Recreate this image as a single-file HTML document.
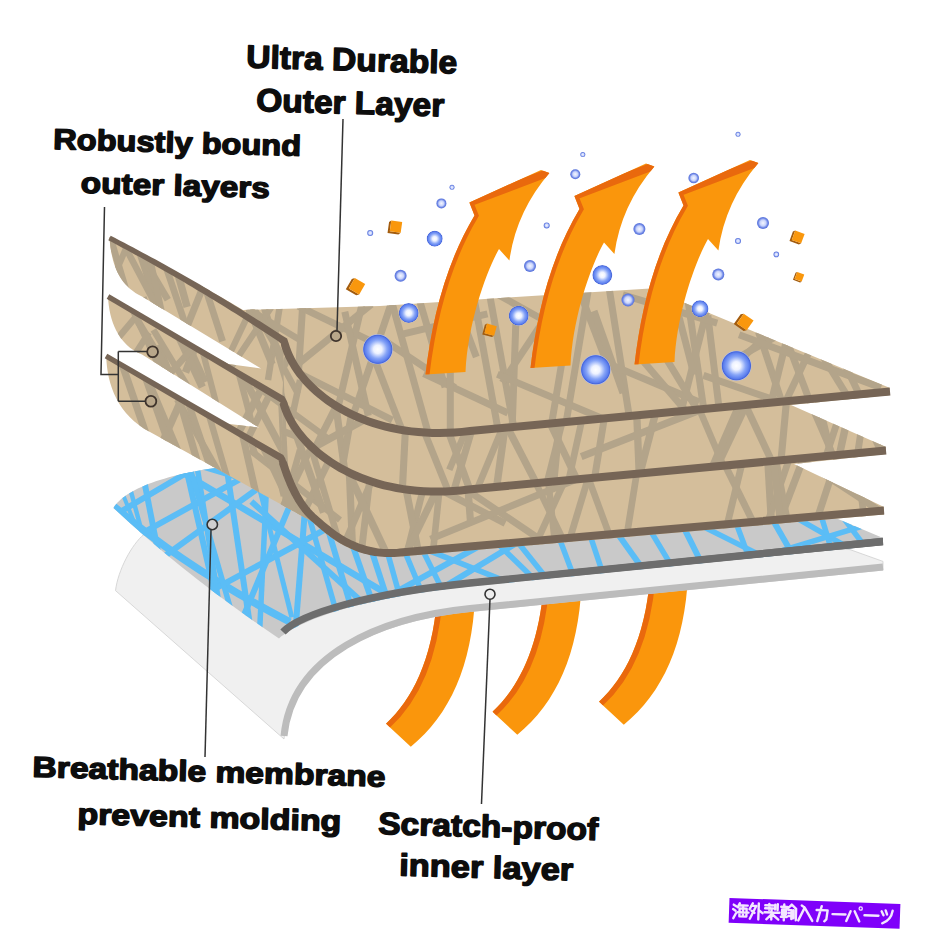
<!DOCTYPE html>
<html><head><meta charset="utf-8">
<style>
html,body{margin:0;padding:0;background:#fff;width:930px;height:930px;overflow:hidden}
svg{display:block}
.lbl{font-family:"Liberation Sans",sans-serif;font-weight:bold;fill:#0d0d0d;stroke:#0d0d0d;stroke-width:1.4px;stroke-linejoin:round}
</style></head>
<body>
<svg width="930" height="930" viewBox="0 0 930 930">
<defs>
  <radialGradient id="bub" cx="50%" cy="50%" r="50%">
    <stop offset="0" stop-color="#ffffff"/>
    <stop offset="0.28" stop-color="#eef2ff"/>
    <stop offset="0.62" stop-color="#86a4f7"/>
    <stop offset="0.86" stop-color="#5b7eee"/>
    <stop offset="0.94" stop-color="#4766d8"/>
    <stop offset="1" stop-color="#aebcf0"/>
  </radialGradient>
  <radialGradient id="bubs" cx="50%" cy="50%" r="50%">
    <stop offset="0" stop-color="#f4f6ff"/>
    <stop offset="0.5" stop-color="#c9d4fb"/>
    <stop offset="0.8" stop-color="#6d86e6"/>
    <stop offset="1" stop-color="#5570d8"/>
  </radialGradient>
  <clipPath id="tanclip"><path id="tanpath" d="M109.5,237 Q200,284 243,310 L380,306 L500,298 L650,288.5 L890,388 L890,395 L791,405 L886,447 L886,454 L794,464 L884,507 L884,514.5 L400,556.5 C360,560 330,540 314.8,523 L150,432 C118,415 107,385 106.2,355.7 L226,423.5 L259,427.5 L142,354.5 C118,345 109,320 108,296.5 L228,364 L261,368.5 L142,296.5 C118,285 111,262 109.5,237 Z"/></clipPath>
  <clipPath id="memclip"><path id="mempath" d="M113.5,508 C122,494 150,476 229,466 L320,470 L500,500 L838,519 L883,538 L883,545 L470,586.5 C370,596.5 302,618 279,638.5 Q185,575 113.5,508 Z"/></clipPath>
  <clipPath id="arrclip"><path id="arrpath" d="M425.5,374.5 C432,320 445,265 474.5,215.5 L469.4,202.6 L541,170 L549.4,173 Q516,212 509.4,260.6 L499,249 C488,268 468,320 465.5,372 Z"/></clipPath>
  <clipPath id="arcclip"><path id="arcpath" d="M437,600 L475,597 C472,665 450,715 410.8,746.8 L386,723.7 C412,700 432,660 437,600 Z"/></clipPath>
<clipPath id="r1"><path d="M100,200 L900,200 L900,391 L470,431 C365,444 295,390 284,341 L282.5,399.5 L100,295 Z"/></clipPath>
  <clipPath id="r2"><path d="M100,295 L282.5,399.5 L284,341 C295,390 365,444 470,431 L900,391 L900,450 L468.5,489.5 C363.5,503 293.5,448.5 282.5,399.5 L281.5,458 L100,352 Z"/></clipPath>
  <clipPath id="r3"><path d="M100,352 L281.5,458 L282.5,399.5 C293.5,448.5 363.5,503 468.5,489.5 L900,450 L900,600 L100,600 Z"/></clipPath>
</defs>

<!-- bottom arcs -->
<g id="arc1">
  <use href="#arcpath" fill="#fa960c"/>
  <path d="M386,723.7 C412,700 432,660 437,600" stroke="#e9690d" stroke-width="11" fill="none" clip-path="url(#arcclip)"/>
</g>
<use href="#arc1" transform="translate(106.5,-12)"/>
<use href="#arc1" transform="translate(213,-22)"/>

<!-- inner white layer -->
<path d="M143.9,534.5 C132,544 118,570 115.5,590.6 L284,739 C292,658 380,620.5 470,611.5 L883,570 L883,561.4 L850,549.6 L700,540 L300,540 Z" fill="#f0f0f0" stroke="#cfcfcf" stroke-width="0.8"/>
<path d="M284,736 C292,655 380,617.5 470,608.5 L883,567" fill="none" stroke="#bcbcbc" stroke-width="7"/>

<!-- membrane -->
<use href="#mempath" fill="#c9c9c9"/>
<g clip-path="url(#memclip)" stroke="#5bbdf6" stroke-width="6" fill="none" id="blueTex">
<path d="M110,503 Q185,568 290,622" stroke-width="7.5"/>
<path d="M107.6,428.1 L412.4,608.9" stroke-width="6.5"/>
<path d="M127.6,395.7 L170.2,614.3" stroke-width="6.0"/>
<path d="M120,512 L200,465" stroke-width="6.0"/>
<path d="M80.2,567.5 L313.8,438.5" stroke-width="6.0"/>
<path d="M167.0,384.3 L228.0,651.7" stroke-width="6.0"/>
<path d="M185.8,396.1 L226.2,648.9" stroke-width="5.5"/>
<path d="M130,488 L140,525" stroke-width="4.5"/>
<path d="M122,492 L134,522" stroke-width="4.0"/>
<path d="M213.8,381.0 L261.2,701.0" stroke-width="6.0"/>
<path d="M324.7,422.0 L214.3,686.0" stroke-width="6.0"/>
<path d="M144.5,626.6 L379.3,500.4" stroke-width="6.0"/>
<path d="M270.3,408.1 L255.7,713.9" stroke-width="5.5"/>
<path d="M311.1,432.3 L287.9,725.7" stroke-width="6.0"/>
<path d="M285.3,433.5 L354.7,676.5" stroke-width="5.5"/>
<path d="M107.2,597.9 L307.8,452.1" stroke-width="6.0"/>
<path d="M180.1,433.5 L252.9,686.5" stroke-width="5.5"/>
<path d="M153.8,452.1 L416.2,530.9" stroke-width="5.5"/>
<path d="M233.2,382.7 L291.8,617.3" stroke-width="5.0"/>
<path d="M304.1,448.7 L374.6,686.3" stroke-width="6.0"/>
<path d="M319.4,450.0 L401.2,685.0" stroke-width="6.0"/>
<path d="M340.5,455.4 L413.9,680.6" stroke-width="6.0"/>
<path d="M251.4,501.5 L428.6,662.5" stroke-width="6.0"/>
<path d="M359.7,453.3 L422.3,676.7" stroke-width="5.5"/>
<path d="M365.4,456.9 L454.6,671.1" stroke-width="5.5"/>
<path d="M379.8,464.5 L480.2,665.5" stroke-width="5.5"/>
<path d="M357.1,613.4 L554.9,504.6" stroke-width="6.0"/>
<path d="M356.4,521.6 L573.6,608.4" stroke-width="5.5"/>
<path d="M378.5,626.6 L582.0,503.4" stroke-width="6.0"/>
<path d="M429.5,477.3 L594.5,637.7" stroke-width="5.5"/>
<path d="M463.8,474.7 L596.2,640.3" stroke-width="5.5"/>
<path d="M528.4,455.7 L603.6,656.3" stroke-width="5.5"/>
<path d="M561.5,449.6 L628.5,650.4" stroke-width="5.5"/>
<path d="M562.7,456.8 L692.3,638.2" stroke-width="6.0"/>
<path d="M603.7,452.8 L714.3,637.2" stroke-width="5.5"/>
<path d="M639.8,439.5 L740.2,640.5" stroke-width="6.0"/>
<path d="M619.5,484.8 L820.5,585.2" stroke-width="5.5"/>
<path d="M703.7,435.6 L779.3,639.4" stroke-width="5.5"/>
<path d="M725.3,436.9 L834.7,628.1" stroke-width="6.0"/>
<path d="M721.9,475.3 L913.1,584.7" stroke-width="5.5"/>
<path d="M793.9,425.9 L856.1,631.1" stroke-width="5.5"/>
<path d="M791.0,448.0 L914.0,612.0" stroke-width="5.5"/>
<path d="M763.9,556.1 L969.1,493.9" stroke-width="5.5"/>
</g>
<path d="M283,632 C300,614 370,593 470,583 L883,541.5" fill="none" stroke="#6d6d6d" stroke-width="7.3"/>
<path fill="#6d6d6d" d="M469.0,580.00 L883.0,537.75 L883.0,545.25 L469.0,586.00 Z"/>

<!-- tan layers -->
<use href="#tanpath" fill="#d4be9b"/>
<g clip-path="url(#tanclip)" stroke="#b3a48a" fill="none" id="tanTex">
<g clip-path="url(#r1)"><path d="M262,300 L292,400" stroke-width="7"/>
<path d="M280,305 L268,380" stroke-width="6.5"/>
<path d="M250,310 L300,340" stroke-width="6.5"/>
<path d="M303.5,292.5 L297.9,381.8" stroke-width="7"/>
<path d="M288.4,371.8 L371.4,304.2" stroke-width="7"/>
<path d="M298.2,306.2 L377.1,344.1" stroke-width="7"/>
<path d="M365.0,291.3 L336.1,415.7" stroke-width="7"/>
<path d="M344.8,311.8 L368.3,415.8" stroke-width="7"/>
<path d="M395.8,290.0 L353.2,415.0" stroke-width="7"/>
<path d="M369.8,347.0 L406.9,442.6" stroke-width="7"/>
<path d="M378.5,336.6 L455.0,387.6" stroke-width="7"/>
<path d="M392.2,303.5 L431.0,443.1" stroke-width="7"/>
<path d="M417.9,294.7 L445.1,387.3" stroke-width="7"/>
<path d="M298.3,372.9 L392.4,420.1" stroke-width="7"/>
<path d="M471.2,282.8 L500.0,440.3" stroke-width="7"/>
<path d="M488.4,287.9 L515.5,436.9" stroke-width="7"/>
<path d="M516.3,310.0 L511.7,440.6" stroke-width="7"/>
<path d="M489.7,290.0 L552.0,324.8" stroke-width="7"/>
<path d="M542.9,321.6 L502.3,382.6" stroke-width="7"/>
<path d="M497.4,374.3 L616.6,424.5" stroke-width="7"/>
<path d="M423.7,373.7 L507.9,413.0" stroke-width="7"/>
<path d="M450.3,370.0 L450.3,446.0" stroke-width="7"/>
<path d="M589.2,284.4 L566.0,423.2" stroke-width="7"/>
<path d="M563.4,353.2 L548.8,440.4" stroke-width="7"/>
<path d="M574.6,278.5 L606.4,361.8" stroke-width="7"/>
<path d="M607.5,277.5 L630.3,423.2" stroke-width="7"/>
<path d="M594.0,311.0 L623.0,393.0" stroke-width="7"/>
<path d="M600.6,360.6 L699.2,402.0" stroke-width="7"/>
<path d="M639.9,357.3 L692.6,419.1" stroke-width="7"/>
<path d="M686.9,293.0 L705.8,423.2" stroke-width="7"/>
<path d="M711.1,293.4 L678.2,422.8" stroke-width="7"/>
<path d="M707.8,315.3 L720.9,423.3" stroke-width="7"/>
<path d="M773.4,329.8 L729.4,369.3" stroke-width="7"/>
<path d="M656.1,341.9 L703.9,420.8" stroke-width="7"/>
<path d="M703.4,375.4 L777.0,400.9" stroke-width="7"/>
<path d="M672.9,293.4 L694.0,374.7" stroke-width="7"/>
<path d="M732.2,360.7 L792.8,327.3" stroke-width="7"/>
<path d="M758.5,331.9 L786.0,414.5" stroke-width="7"/>
<path d="M787.8,334.8 L768.0,414.9" stroke-width="7"/>
<path d="M786.6,340.2 L814.1,412.6" stroke-width="7"/>
<path d="M809.0,352.1 L780.7,412.1" stroke-width="7"/>
<path d="M739.1,334.7 L880.9,387.6" stroke-width="7"/>
<path d="M820.9,353.1 L852.6,404.7" stroke-width="7"/>
<path d="M842.3,358.7 L865.7,408.3" stroke-width="7"/>
<path d="M622.8,294.8 L717.2,323.2" stroke-width="7"/>
<path d="M448.7,283.1 L476.3,356.9" stroke-width="7"/>
<path d="M402.5,334.2 L487.5,313.8" stroke-width="7"/>
<path d="M243.6,186.0 L181.4,340.6" stroke-width="7.0"/>
<path d="M122.7,199.8 L166.7,334.0" stroke-width="7.5"/>
<path d="M95.6,188.0 L140.4,338.2" stroke-width="6.7"/>
<path d="M127.3,251.0 L203.4,395.1" stroke-width="6.5"/>
<path d="M92.1,249.5 L158.9,446.8" stroke-width="6.6"/>
<path d="M155.9,236.9 L194.4,351.3" stroke-width="6.7"/>
<path d="M185.4,226.1 L222.6,341.2" stroke-width="6.8"/>
<path d="M98.9,183.6 L167.8,299.8" stroke-width="7.0"/>
<path d="M207.2,207.5 L272.2,364.4" stroke-width="7.3"/>
<path d="M143.6,297.2 L181.6,411.7" stroke-width="6.1"/>
<path d="M150.9,189.9 L70.9,377.4" stroke-width="6.2"/>
<path d="M264.1,280.9 L207.0,402.2" stroke-width="6.3"/>
<path d="M309.8,249.9 L193.4,423.4" stroke-width="6.2"/>
<path d="M237.5,281.2 L326.6,431.6" stroke-width="7.0"/>
<path d="M152.6,182.6 L187.1,306.9" stroke-width="7.4"/>
<path d="M128.7,162.0 L173.8,367.2" stroke-width="6.5"/></g>
<g clip-path="url(#r2)"><path d="M270,360 L305,470" stroke-width="7"/>
<path d="M300,380 L285,450" stroke-width="6.5"/>
<path d="M255,385 L330,440" stroke-width="6.5"/>
<path d="M202.2,299.6 L290.4,465.2" stroke-width="7.5"/>
<path d="M158.5,344.8 L209.8,475.2" stroke-width="6.7"/>
<path d="M198.8,336.8 L237.4,484.6" stroke-width="6.2"/>
<path d="M153.4,329.9 L228.6,453.8" stroke-width="6.4"/>
<path d="M138.1,321.6 L246.4,501.3" stroke-width="7.3"/>
<path d="M197.2,208.2 L298.0,394.1" stroke-width="6.2"/>
<path d="M198.8,242.0 L58.3,409.1" stroke-width="6.5"/>
<path d="M197.4,215.4 L253.1,428.0" stroke-width="6.4"/>
<path d="M134.2,225.3 L205.1,382.1" stroke-width="6.9"/>
<path d="M137.0,247.2 L202.3,387.2" stroke-width="7.5"/>
<path d="M241.8,223.7 L185.5,372.4" stroke-width="7.5"/>
<path d="M100.6,328.3 L148.3,509.9" stroke-width="7.4"/>
<path d="M207.1,332.0 L114.8,435.3" stroke-width="6.8"/>
<path d="M90.6,219.5 L168.9,387.1" stroke-width="6.7"/>
<path d="M192.8,236.1 L240.7,363.0" stroke-width="6.0"/>
<path d="M148.9,332.5 L83.9,434.2" stroke-width="6.3"/>
<path d="M576.8,240.9 L548.1,540.1" stroke-width="7.4"/>
<path d="M406.5,267.9 L252.1,571.7" stroke-width="7.0"/>
<path d="M640.6,181.3 L803.9,529.7" stroke-width="7.1"/>
<path d="M824.0,240.9 L680.6,543.4" stroke-width="7.2"/>
<path d="M606.6,177.1 L467.9,511.3" stroke-width="6.7"/>
<path d="M852.6,375.2 L788.8,569.7" stroke-width="6.9"/>
<path d="M753.3,176.2 L912.6,520.1" stroke-width="6.7"/>
<path d="M354.3,210.8 L215.8,476.2" stroke-width="7.4"/>
<path d="M485.7,288.7 L586.9,500.3" stroke-width="7.1"/>
<path d="M891.5,214.8 L837.7,462.7" stroke-width="7.5"/>
<path d="M898.0,188.8 L879.6,510.5" stroke-width="6.5"/>
<path d="M521.7,305.8 L484.8,572.7" stroke-width="7.4"/>
<path d="M632.1,301.4 L640.5,504.9" stroke-width="7.3"/>
<path d="M511.4,295.8 L449.7,504.7" stroke-width="7.1"/>
<path d="M322.8,308.6 L362.9,605.4" stroke-width="7.2"/>
<path d="M379.0,319.6 L483.9,579.4" stroke-width="6.9"/>
<path d="M754.2,274.4 L854.8,505.2" stroke-width="6.6"/>
<path d="M794.9,296.1 L954.9,419.9" stroke-width="6.6"/>
<path d="M413.0,279.1 L401.5,506.9" stroke-width="7.1"/>
<path d="M388.7,201.1 L338.8,487.0" stroke-width="7.2"/>
<path d="M911.1,327.5 L581.2,456.6" stroke-width="7.4"/>
<path d="M621.7,188.1 L541.5,504.0" stroke-width="6.6"/>
<path d="M817.9,223.0 L693.9,509.1" stroke-width="6.9"/>
<path d="M475.8,358.7 L295.3,457.5" stroke-width="7.5"/>
<path d="M796.4,314.8 L848.1,521.6" stroke-width="7.1"/>
<path d="M638.1,210.9 L583.4,546.4" stroke-width="7.0"/>
<path d="M619.1,249.6 L538.9,616.7" stroke-width="6.7"/>
<path d="M796.7,289.2 L767.6,607.2" stroke-width="7.1"/>
<path d="M647.3,287.2 L739.9,504.6" stroke-width="6.6"/>
<path d="M435.2,287.7 L557.7,524.7" stroke-width="7.3"/>
<path d="M276.9,301.5 L293.6,667.6" stroke-width="6.6"/>
<path d="M536.1,265.2 L449.3,469.7" stroke-width="6.6"/>
<path d="M875.4,337.7 L829.2,638.6" stroke-width="6.9"/>
<path d="M703.3,228.9 L631.1,507.6" stroke-width="7.4"/>
<path d="M376.2,181.0 L211.0,512.4" stroke-width="7.1"/>
<path d="M346.4,154.1 L482.8,524.9" stroke-width="7.3"/></g>
<g clip-path="url(#r3)"><path d="M265,420 L310,540" stroke-width="7"/>
<path d="M300,450 L280,520" stroke-width="6.5"/>
<path d="M250,450 L340,520" stroke-width="6.5"/>
<path d="M89.0,409.9 L134.0,619.8" stroke-width="6.4"/>
<path d="M182.5,324.0 L239.1,518.7" stroke-width="6.4"/>
<path d="M177.2,399.3 L255.8,537.7" stroke-width="6.7"/>
<path d="M246.9,395.1 L342.0,586.7" stroke-width="6.3"/>
<path d="M147.9,290.4 L200.6,473.1" stroke-width="7.2"/>
<path d="M224.7,356.3 L273.3,569.9" stroke-width="7.1"/>
<path d="M353.6,410.6 L265.2,591.3" stroke-width="7.0"/>
<path d="M96.8,394.1 L165.6,592.5" stroke-width="6.7"/>
<path d="M205.0,346.5 L115.9,547.0" stroke-width="7.4"/>
<path d="M255.7,375.3 L284.3,495.8" stroke-width="7.4"/>
<path d="M216.7,334.1 L255.3,455.3" stroke-width="6.6"/>
<path d="M107.0,320.1 L146.8,436.1" stroke-width="7.3"/>
<path d="M197.1,335.9 L271.3,460.8" stroke-width="6.8"/>
<path d="M265.1,400.7 L295.1,532.7" stroke-width="6.3"/>
<path d="M185.0,294.5 L261.9,440.6" stroke-width="6.5"/>
<path d="M165.1,335.1 L217.5,488.4" stroke-width="6.8"/>
<path d="M132.7,342.6 L198.9,499.7" stroke-width="6.2"/>
<path d="M145.9,378.6 L194.2,515.9" stroke-width="7.2"/>
<path d="M450.7,381.4 L425.3,626.2" stroke-width="6.6"/>
<path d="M449.1,386.3 L385.6,637.4" stroke-width="6.9"/>
<path d="M857.5,316.1 L724.4,665.9" stroke-width="7.3"/>
<path d="M764.4,401.7 L779.0,652.6" stroke-width="7.3"/>
<path d="M618.3,378.5 L535.5,652.2" stroke-width="6.8"/>
<path d="M345.2,370.8 L358.0,681.4" stroke-width="7.2"/>
<path d="M422.8,362.6 L301.8,642.1" stroke-width="6.8"/>
<path d="M611.7,378.2 L508.8,602.8" stroke-width="6.7"/>
<path d="M371.9,314.4 L425.3,587.2" stroke-width="7.2"/>
<path d="M829.0,234.5 L869.2,559.8" stroke-width="6.7"/>
<path d="M378.7,430.3 L685.8,638.0" stroke-width="6.9"/>
<path d="M821.9,352.0 L612.2,473.5" stroke-width="7.1"/>
<path d="M654.8,360.2 L613.9,616.1" stroke-width="6.7"/>
<path d="M628.5,269.0 L766.0,548.3" stroke-width="7.0"/>
<path d="M390.0,282.8 L217.4,643.2" stroke-width="6.6"/>
<path d="M523.8,311.8 L404.0,557.5" stroke-width="7.3"/>
<path d="M276.3,298.3 L290.7,592.8" stroke-width="7.2"/>
<path d="M451.4,269.8 L470.4,520.7" stroke-width="7.2"/>
<path d="M839.4,311.0 L756.6,554.8" stroke-width="6.7"/>
<path d="M424.5,252.2 L563.5,540.4" stroke-width="6.5"/>
<path d="M782.3,296.3 L721.8,547.0" stroke-width="6.9"/>
<path d="M378.5,403.9 L348.6,662.8" stroke-width="6.9"/>
<path d="M243.8,220.5 L356.9,602.1" stroke-width="6.5"/>
<path d="M747.1,347.5 L465.7,475.4" stroke-width="6.6"/>
<path d="M155.0,382.0 L411.1,480.3" stroke-width="6.8"/>
<path d="M741.0,276.1 L797.2,574.8" stroke-width="7.4"/>
<path d="M536.7,374.3 L560.7,596.1" stroke-width="6.6"/>
<path d="M560.8,403.1 L650.5,646.7" stroke-width="6.6"/>
<path d="M232.3,226.2 L391.3,563.9" stroke-width="7.5"/>
<path d="M759.3,332.2 L787.8,588.7" stroke-width="7.3"/>
<path d="M188.3,359.0 L505.2,523.4" stroke-width="7.0"/>
<path d="M240.9,277.2 L323.6,512.5" stroke-width="7.4"/>
<path d="M695.1,389.9 L906.2,528.2" stroke-width="7.0"/>
<path d="M867.5,366.0 L793.0,592.2" stroke-width="7.1"/>
<path d="M244.9,408.2 L356.8,644.5" stroke-width="7.4"/>
<path d="M735.7,414.0 L430.5,539.1" stroke-width="6.9"/></g>
</g>
<path fill="#766556" d="M108.3,240.2 L112.8,242.6 L117.3,245.0 L121.8,247.4 L126.3,249.8 L130.8,252.2 L135.2,254.7 L139.7,257.1 L144.1,259.5 L148.6,262.0 L153.0,264.5 L157.4,267.0 L161.8,269.5 L166.2,272.0 L170.6,274.5 L175.0,277.0 L179.4,279.6 L183.8,282.1 L188.1,284.7 L192.5,287.3 L196.8,289.9 L201.2,292.4 L205.5,295.1 L209.8,297.7 L214.1,300.3 L218.5,303.0 L222.7,305.6 L227.0,308.3 L231.3,310.9 L235.6,313.6 L239.9,316.3 L244.1,319.0 L248.4,321.8 L252.6,324.5 L256.8,327.2 L261.1,330.0 L265.3,332.7 L269.5,335.5 L273.7,338.3 L277.9,341.1 L280.9,343.5 L281.1,345.8 L282.3,349.7 L283.7,353.6 L285.4,357.4 L287.3,361.3 L289.4,365.1 L291.7,368.9 L294.2,372.7 L296.9,376.4 L299.9,380.1 L303.0,383.7 L306.3,387.3 L309.8,390.8 L313.6,394.2 L317.5,397.5 L321.6,400.8 L325.8,403.9 L330.3,407.0 L335.0,409.9 L339.8,412.7 L344.8,415.4 L350.0,418.0 L355.3,420.5 L360.9,422.8 L366.6,424.9 L372.4,426.9 L378.4,428.8 L384.6,430.4 L391.0,431.9 L397.5,433.2 L404.1,434.4 L410.9,435.3 L417.9,436.0 L425.0,436.6 L432.2,436.9 L439.6,437.0 L447.1,436.8 L454.8,436.4 L462.6,435.8 L470.4,435.0 L680.4,415.2 L890.4,395.5 L889.6,387.5 L679.6,407.3 L469.6,427.0 L461.8,427.9 L454.3,428.5 L446.8,428.8 L439.6,429.0 L432.4,428.9 L425.4,428.6 L418.6,428.1 L411.9,427.4 L405.3,426.5 L398.9,425.4 L392.7,424.1 L386.6,422.7 L380.6,421.1 L374.9,419.3 L369.3,417.4 L363.8,415.3 L358.5,413.1 L353.4,410.8 L348.5,408.3 L343.7,405.8 L339.1,403.1 L334.7,400.3 L330.5,397.4 L326.4,394.4 L322.5,391.3 L318.9,388.2 L315.4,385.0 L312.1,381.7 L308.9,378.4 L306.0,375.0 L303.3,371.6 L300.8,368.1 L298.4,364.6 L296.3,361.1 L294.4,357.6 L292.7,354.1 L291.2,350.6 L289.9,347.1 L288.8,343.6 L287.1,338.5 L281.7,335.3 L277.5,332.5 L273.2,329.8 L269.0,327.0 L264.7,324.3 L260.5,321.6 L256.2,318.9 L251.9,316.2 L247.6,313.5 L243.3,310.8 L239.0,308.1 L234.7,305.5 L230.4,302.8 L226.1,300.2 L221.7,297.6 L217.4,295.0 L213.0,292.4 L208.7,289.8 L204.3,287.2 L199.9,284.6 L195.5,282.1 L191.1,279.6 L186.7,277.0 L182.3,274.5 L177.9,272.0 L173.5,269.5 L169.0,267.0 L164.6,264.5 L160.1,262.1 L155.7,259.6 L151.2,257.2 L146.7,254.8 L142.3,252.4 L137.8,250.0 L133.3,247.6 L128.8,245.2 L124.3,242.8 L119.7,240.4 L115.2,238.1 L110.7,235.8 Z M106.7,298.7 L193.7,350.6 L280.6,402.5 L279.6,404.3 L280.8,408.2 L282.2,412.1 L283.9,416.0 L285.8,419.8 L287.9,423.7 L290.2,427.5 L292.7,431.3 L295.4,435.0 L298.4,438.7 L301.5,442.3 L304.8,445.9 L308.3,449.4 L312.0,452.8 L316.0,456.2 L320.1,459.4 L324.3,462.6 L328.8,465.6 L333.5,468.6 L338.3,471.4 L343.3,474.1 L348.5,476.7 L353.8,479.2 L359.4,481.5 L365.1,483.6 L370.9,485.6 L376.9,487.5 L383.1,489.2 L389.5,490.6 L396.0,492.0 L402.6,493.1 L409.4,494.0 L416.4,494.7 L423.5,495.2 L430.7,495.5 L438.1,495.6 L445.6,495.4 L453.3,495.0 L461.1,494.4 L468.9,493.5 L677.6,474.0 L886.4,454.5 L885.6,446.5 L676.9,466.0 L468.1,485.5 L460.3,486.4 L452.7,487.0 L445.3,487.4 L438.0,487.6 L430.9,487.5 L423.9,487.2 L417.1,486.7 L410.4,486.1 L403.8,485.2 L397.4,484.1 L391.2,482.8 L385.1,481.4 L379.1,479.8 L373.4,478.0 L367.8,476.1 L362.3,474.0 L357.0,471.8 L351.9,469.5 L347.0,467.0 L342.2,464.5 L337.6,461.8 L333.2,459.0 L329.0,456.1 L324.9,453.1 L321.0,450.0 L317.4,446.8 L313.9,443.6 L310.6,440.3 L307.4,437.0 L304.5,433.6 L301.8,430.2 L299.3,426.7 L296.9,423.2 L294.8,419.7 L292.9,416.2 L291.2,412.6 L289.7,409.1 L288.4,405.6 L287.3,402.1 L284.4,396.5 L196.8,345.4 L109.3,294.3 Z M104.7,358.2 L192.2,409.6 L279.7,461.0 L278.6,460.7 L279.2,462.4 L279.2,464.2 L279.8,465.9 L280.3,467.6 L280.9,469.3 L281.5,471.1 L282.1,472.8 L282.7,474.5 L283.3,476.2 L284.0,478.0 L284.7,479.7 L285.4,481.4 L286.1,483.1 L286.8,484.9 L287.5,486.6 L288.3,488.3 L289.1,490.0 L289.9,491.6 L290.7,493.3 L291.6,495.0 L292.5,496.6 L293.4,498.2 L294.3,499.8 L295.2,501.4 L296.2,503.0 L297.2,504.5 L298.2,506.1 L299.2,507.6 L300.3,509.0 L301.4,510.5 L302.5,511.9 L303.6,513.3 L304.8,514.7 L306.0,516.0 L307.2,517.3 L308.5,518.5 L309.8,519.8 L311.1,520.9 L312.4,522.0 L313.8,523.3 L315.4,524.7 L317.0,526.1 L318.6,527.5 L320.2,528.8 L321.8,530.2 L323.5,531.6 L325.2,532.9 L326.9,534.3 L328.7,535.6 L330.5,536.9 L332.3,538.2 L334.2,539.5 L336.1,540.7 L338.0,542.0 L340.0,543.2 L342.0,544.3 L344.1,545.5 L346.1,546.6 L348.3,547.6 L350.4,548.6 L352.6,549.6 L354.9,550.5 L357.2,551.4 L359.5,552.2 L361.9,553.0 L364.3,553.7 L366.8,554.3 L369.3,554.9 L371.9,555.5 L374.5,555.9 L377.2,556.3 L379.9,556.6 L382.7,556.8 L385.5,557.0 L388.4,557.1 L391.3,557.1 L394.3,557.0 L397.3,556.8 L400.3,556.6 L642.3,535.5 L884.3,514.5 L883.7,506.5 L641.7,527.6 L399.7,548.6 L396.7,548.9 L393.9,549.0 L391.2,549.1 L388.5,549.1 L385.9,549.0 L383.3,548.9 L380.7,548.7 L378.2,548.4 L375.8,548.0 L373.4,547.6 L371.0,547.1 L368.7,546.6 L366.5,546.0 L364.3,545.3 L362.1,544.6 L359.9,543.9 L357.8,543.1 L355.8,542.2 L353.7,541.3 L351.7,540.4 L349.8,539.4 L347.8,538.4 L345.9,537.4 L344.1,536.3 L342.2,535.2 L340.4,534.0 L338.7,532.9 L336.9,531.7 L335.2,530.4 L333.5,529.2 L331.8,527.9 L330.2,526.6 L328.5,525.3 L326.9,524.0 L325.3,522.7 L323.8,521.4 L322.2,520.0 L320.7,518.7 L319.2,517.4 L317.6,516.0 L316.4,514.9 L315.2,513.9 L314.1,512.8 L313.0,511.7 L311.9,510.5 L310.8,509.4 L309.8,508.1 L308.7,506.9 L307.7,505.6 L306.7,504.3 L305.8,502.9 L304.8,501.6 L303.9,500.2 L303.0,498.7 L302.1,497.3 L301.2,495.8 L300.3,494.3 L299.5,492.8 L298.7,491.3 L297.9,489.7 L297.1,488.1 L296.3,486.5 L295.6,484.9 L294.9,483.3 L294.1,481.7 L293.5,480.1 L292.8,478.4 L292.1,476.8 L291.5,475.1 L290.8,473.4 L290.2,471.8 L289.6,470.1 L289.0,468.4 L288.5,466.8 L287.9,465.1 L287.4,463.4 L286.8,461.8 L285.8,460.3 L285.3,458.6 L283.3,455.0 L195.3,404.4 L107.3,353.8 Z"/>

<!-- top arrows -->
<g id="arr1">
  <use href="#arrpath" fill="#fa960c"/>
  <path d="M425.5,374.5 C432,320 445,265 474.5,215.5 L469.4,202.6 L549.4,172.3" stroke="#e9690d" stroke-width="8" fill="none" clip-path="url(#arrclip)"/>
</g>
<use href="#arr1" transform="translate(105,-6.5)"/>
<use href="#arr1" transform="translate(209,-10)"/>

<!-- bubbles -->
<g id="bubbles">
  <circle cx="377.8" cy="349.3" r="15" fill="url(#bub)"/>
  <circle cx="595.7" cy="369.8" r="15" fill="url(#bub)"/>
  <circle cx="736.4" cy="365.8" r="15" fill="url(#bub)"/>
  <circle cx="408.7" cy="313" r="10" fill="url(#bub)"/>
  <circle cx="518.7" cy="315.7" r="10" fill="url(#bub)"/>
  <circle cx="602.3" cy="275" r="10" fill="url(#bub)"/>
  <circle cx="700" cy="308.7" r="8.5" fill="url(#bub)"/>
  <circle cx="434.7" cy="238.7" r="8" fill="url(#bub)"/>
  <circle cx="400.6" cy="275.8" r="6" fill="url(#bubs)"/>
  <circle cx="530" cy="266" r="6" fill="url(#bubs)"/>
  <circle cx="639.4" cy="229" r="6" fill="url(#bubs)"/>
  <circle cx="628" cy="300" r="6.5" fill="url(#bubs)"/>
  <circle cx="763" cy="223" r="6" fill="url(#bubs)"/>
  <circle cx="718.3" cy="274.4" r="6" fill="url(#bubs)"/>
  <circle cx="441.4" cy="203.4" r="5" fill="url(#bubs)"/>
  <circle cx="575.3" cy="174.2" r="5" fill="url(#bubs)"/>
  <circle cx="693.7" cy="178" r="5.3" fill="url(#bubs)"/>
  <circle cx="370.2" cy="233" r="3" fill="url(#bubs)"/>
  <circle cx="546.7" cy="225.4" r="3" fill="url(#bubs)"/>
  <circle cx="738" cy="241" r="3" fill="url(#bubs)"/>
  <circle cx="776.3" cy="254.4" r="2.8" fill="url(#bubs)"/>
  <circle cx="452" cy="187.3" r="2.5" fill="url(#bubs)"/>
  <circle cx="582.8" cy="154.6" r="2.5" fill="url(#bubs)"/>
  <circle cx="738" cy="134.3" r="2.5" fill="url(#bubs)"/>
</g>

<!-- cubes -->
<g>
  <g transform="translate(396.0,226.6) rotate(8)"><path d="M-5.5,-5.5 L-7.5,-3.5 L-7.5,7.5 L3.5,7.5 L5.5,5.5 L-5.5,5.5 Z" fill="#a35c0e"/><rect x="-5.5" y="-5.5" width="11.0" height="11.0" fill="#f9970d"/></g>
  <g transform="translate(357.0,286.3) rotate(30)"><path d="M-6.0,-6.0 L-8.2,-3.8 L-8.2,8.2 L3.8,8.2 L6.0,6.0 L-6.0,6.0 Z" fill="#a35c0e"/><rect x="-6.0" y="-6.0" width="12.0" height="12.0" fill="#f9970d"/></g>
  <g transform="translate(490.6,329.7) rotate(15)"><path d="M-5.0,-5.0 L-6.8,-3.2 L-6.8,6.8 L3.2,6.8 L5.0,5.0 L-5.0,5.0 Z" fill="#a35c0e"/><rect x="-5.0" y="-5.0" width="10.0" height="10.0" fill="#f9970d"/></g>
  <g transform="translate(798.2,236.9) rotate(20)"><path d="M-5.0,-5.0 L-6.8,-3.2 L-6.8,6.8 L3.2,6.8 L5.0,5.0 L-5.0,5.0 Z" fill="#a35c0e"/><rect x="-5.0" y="-5.0" width="10.0" height="10.0" fill="#f9970d"/></g>
  <g transform="translate(799.5,276.8) rotate(20)"><path d="M-3.8,-3.8 L-5.1,-2.4 L-5.1,5.1 L2.4,5.1 L3.8,3.8 L-3.8,3.8 Z" fill="#a35c0e"/><rect x="-3.8" y="-3.8" width="7.5" height="7.5" fill="#f9970d"/></g>
  <g transform="translate(745.2,322.0) rotate(35)"><path d="M-6.0,-6.0 L-8.2,-3.8 L-8.2,8.2 L3.8,8.2 L6.0,6.0 L-6.0,6.0 Z" fill="#a35c0e"/><rect x="-6.0" y="-6.0" width="12.0" height="12.0" fill="#f9970d"/></g>
</g>

<!-- pointers -->
<g fill="none" stroke="#333" stroke-width="1.5">
  <path d="M343,119 L337,331"/>
  <path d="M104.5,207 L101,374.5 L118.3,374.5 M118.3,351.5 L118.3,401.3 M118.3,351.5 L147,351.5 M118.3,401.3 L145,401.3"/>
  <path d="M211,530 L205,757"/>
  <path d="M490,599 L481.5,804"/>
</g>
<g fill="#b9a78a" stroke="#3f342c" stroke-width="1.8">
  <circle cx="336" cy="336" r="5.2"/>
  <circle cx="152.6" cy="351.8" r="5.4"/>
  <circle cx="150.9" cy="401.3" r="5.4"/>
</g>
<circle cx="212.3" cy="524.5" r="5.2" fill="#cfcfcf" stroke="#333" stroke-width="1.6"/>
<circle cx="490" cy="594.2" r="5" fill="#eee" stroke="#333" stroke-width="1.6"/>

<!-- labels -->
<g transform="rotate(1.65 246 67.5)"><text class="lbl" x="246" y="67.5" font-size="32" textLength="211" lengthAdjust="spacingAndGlyphs">Ultra Durable</text></g>
<g transform="rotate(1.65 256 111)"><text class="lbl" x="256" y="111" font-size="32" textLength="188" lengthAdjust="spacingAndGlyphs">Outer Layer</text></g>
<g transform="rotate(1.6 53 149)"><text class="lbl" x="53" y="149" font-size="29" textLength="248" lengthAdjust="spacingAndGlyphs">Robustly bound</text></g>
<g transform="rotate(1.6 80.6 192.7)"><text class="lbl" x="80.6" y="192.7" font-size="29" textLength="189" lengthAdjust="spacingAndGlyphs">outer layers</text></g>
<g transform="rotate(1.6 32.3 776.8)"><text class="lbl" x="32.3" y="776.8" font-size="29" textLength="353" lengthAdjust="spacingAndGlyphs">Breathable membrane</text></g>
<g transform="rotate(1.6 77.2 823.8)"><text class="lbl" x="77.2" y="823.8" font-size="29" textLength="264" lengthAdjust="spacingAndGlyphs">prevent molding</text></g>
<g transform="rotate(1.6 378 834)"><text class="lbl" x="378" y="834" font-size="31" textLength="220" lengthAdjust="spacingAndGlyphs">Scratch-proof</text></g>
<g transform="rotate(1.6 399 875.5)"><text class="lbl" x="399" y="875.5" font-size="31" textLength="174" lengthAdjust="spacingAndGlyphs">inner layer</text></g>

<!-- watermark -->
<g transform="rotate(2 730 898)">
  <rect x="729.5" y="898" width="171" height="24.8" fill="#7f00fa"/>
  <g fill="none" stroke="#f3e6ff" stroke-width="2.4" stroke-linecap="round" stroke-linejoin="round">
    <path d="M734,904.5 l2.5,1.5 M733.5,909 l2.5,1.5 M734,918 l2.5,-5 M740,903 l-2,4 M739,905 h9 M740,908 h7 v8 h-7 z M738,912 h11 M743.5,907 v9"/>
    <path d="M753,902.5 l-3,6 M751.5,905 h5 l-6,13 M752,910 l3,2 M759,902.5 v16 M759,909 l4,3"/>
    <path d="M765.5,904 h8 M765.5,907 h8 M769.5,902.5 v6 M775.5,903 v5 M778,902.5 v6 M765,911 h15 M772,909 v2 M767,918 l5,-5 M773,913 l6,5 M772,913 v5"/>
    <path d="M781.5,905 h6 M782.5,907.5 h4 v5 h-4 z M781.5,915 h6 M784.5,902.5 v16 M792,902.5 l-4,4 M792,902.5 l4.5,4 M789,908 h3 v9 M789,911 h3 M789,914 h3 M794,908 v8 M796.5,907 v11"/>
    <path d="M802,903 l3,2 M805,905 l-6,13 M805,905 l8,13"/>
    <path d="M817,907 h11 l-1,9 l-2,2 M822,903 l-4,15"/>
    <path d="M833,910.5 h13"/>
    <path d="M851,907 l-4,10 M855,907 l5,10"/>
    <circle cx="861" cy="904" r="1.6" stroke-width="1.3"/>
    <path d="M865,910.5 h14"/>
    <path d="M882,906 l2,4 M886,905 l1.5,4 M893,905 C892,912 888,916 883,918"/>
  </g>
</g>
</svg>
</body></html>
